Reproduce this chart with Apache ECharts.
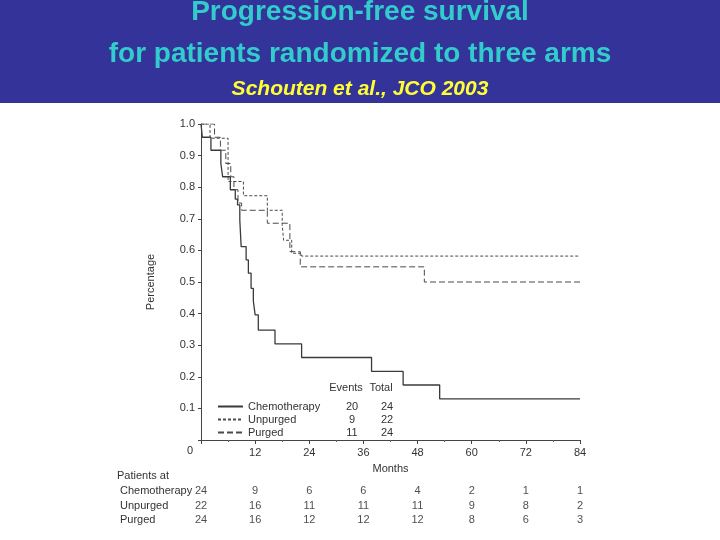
<!DOCTYPE html>
<html>
<head>
<meta charset="utf-8">
<script src="https://cdn.jsdelivr.net/npm/echarts@6/dist/echarts.min.js"></script>
<style>html,body{margin:0;padding:0;background:#fff}#c{width:720px;height:540px}</style>
</head>
<body>
<div id="c"></div>
<script>
// ---- data ----
var armNames = ['Chemotherapy', 'Unpurged', 'Purged'];
var chemoT = [0, 0.3, 2.2, 4.4, 4.8, 6.5, 7.6, 8.1, 8.6, 8.9, 10.0, 10.5, 11.1, 11.6, 12.0, 12.7, 16.4, 22.3, 37.8, 44.8, 52.9, 84];
var chemoS = [1.0, 0.958, 0.917, 0.875, 0.833, 0.792, 0.762, 0.744, 0.696, 0.612, 0.57, 0.528, 0.48, 0.44, 0.396, 0.348, 0.304, 0.261, 0.217, 0.174, 0.13, 0.13];
var unpurgedT = [0, 2.0, 6.0, 9.4, 14.7, 18.0, 18.3, 20.1, 22.3, 84];
var unpurgedS = [1.0, 0.955, 0.818, 0.773, 0.727, 0.682, 0.632, 0.591, 0.582, 0.582];
var purgedT = [0, 3.0, 4.3, 5.5, 6.6, 7.3, 8.2, 9.0, 14.7, 19.7, 22.0, 49.5, 84];
var purgedS = [1.0, 0.958, 0.917, 0.875, 0.833, 0.792, 0.75, 0.727, 0.686, 0.596, 0.548, 0.50, 0.50];
var events = [20, 9, 11];
var totals = [24, 22, 24];
var riskMonths = [0, 12, 24, 36, 48, 60, 72, 84];
var riskChemo = [24, 9, 6, 6, 4, 2, 1, 1];
var riskUnpurged = [22, 16, 11, 11, 11, 9, 8, 2];
var riskPurged = [24, 16, 12, 12, 12, 8, 6, 3];

function pairs(t, s) { return t.map(function (v, i) { return [v, s[i]]; }); }
function riskRow(name, arr) { return arr.map(function (v, i) { return [riskMonths[i], name, v]; }); }

var FONT = 'Liberation Sans, Arial, sans-serif';
var TXT = '#333';

var chart = echarts.init(document.getElementById('c'), null, { renderer: 'canvas' });
var option = {
  backgroundColor: '#ffffff',
  animation: false,
  textStyle: { fontFamily: FONT },
  graphic: [
    { type: 'rect', shape: { x: 0, y: 0, width: 720, height: 103 }, style: { fill: '#333399' }, z: 0 },
    { type: 'text', x: 360, y: 12, style: { text: 'Progression-free survival', fill: '#33CCCC', font: 'bold 28px ' + FONT, textAlign: 'center', textVerticalAlign: 'middle' } },
    { type: 'text', x: 360, y: 54, style: { text: 'for patients randomized to three arms', fill: '#33CCCC', font: 'bold 28px ' + FONT, textAlign: 'center', textVerticalAlign: 'middle' } },
    { type: 'text', x: 360, y: 89, style: { text: 'Schouten et al., JCO 2003', fill: '#FFFF33', font: 'italic bold 21px ' + FONT, textAlign: 'center', textVerticalAlign: 'middle' } },
    { type: 'text', x: 190, y: 451, style: { text: '0', fill: TXT, font: '11px ' + FONT, textAlign: 'center', textVerticalAlign: 'middle' } },
    { type: 'text', x: 346, y: 388, style: { text: 'Events', fill: TXT, font: '11px ' + FONT, textAlign: 'center', textVerticalAlign: 'middle' } },
    { type: 'text', x: 381, y: 388, style: { text: 'Total', fill: TXT, font: '11px ' + FONT, textAlign: 'center', textVerticalAlign: 'middle' } },
    { type: 'text', x: 117, y: 476, style: { text: 'Patients at', fill: TXT, font: '11px ' + FONT, textAlign: 'left', textVerticalAlign: 'middle' } }
  ],
  legend: {
    left: 212, top: 396, orient: 'vertical',
    itemWidth: 25, itemHeight: 12, itemGap: 2,
    data: armNames,
    itemStyle: { opacity: 0 },
    formatter: function (name) {
      var i = armNames.indexOf(name);
      return '{n|' + name + '}{e|' + events[i] + '}{t|' + totals[i] + '}';
    },
    textStyle: {
      color: TXT, fontSize: 11, fontFamily: FONT,
      rich: {
        n: { width: 98, fontSize: 11, color: TXT, fontFamily: FONT },
        e: { width: 12, align: 'center', fontSize: 11, color: TXT, fontFamily: FONT },
        t: { width: 58, align: 'center', fontSize: 11, color: TXT, fontFamily: FONT }
      }
    }
  },
  grid: [
    { left: 201, top: 124, width: 379, height: 316 },
    { left: 201, top: 484, width: 379, height: 43 }
  ],
  xAxis: [
    {
      gridIndex: 0, type: 'value', min: 0, max: 84, interval: 12,
      name: 'Months', nameLocation: 'middle', nameGap: 23,
      nameTextStyle: { color: TXT, fontSize: 11, fontFamily: FONT },
      axisLine: { lineStyle: { color: '#444', width: 1 } },
      axisTick: { show: true, length: 4, inside: false, lineStyle: { color: '#444' } },
      minorTick: { show: true, splitNumber: 2, length: 2, lineStyle: { color: '#666' } },
      splitLine: { show: false },
      axisLabel: { color: TXT, fontSize: 11, fontFamily: FONT, margin: 7,
        formatter: function (v) { return v === 0 ? '' : String(v); } }
    },
    {
      gridIndex: 1, type: 'value', min: 0, max: 84, interval: 12, show: false
    }
  ],
  yAxis: [
    {
      gridIndex: 0, type: 'value', min: 0, max: 1, interval: 0.1,
      name: 'Percentage', nameLocation: 'middle', nameGap: 45, nameRotate: 90,
      nameTextStyle: { color: TXT, fontSize: 11, fontFamily: FONT },
      axisLine: { show: true, lineStyle: { color: '#444', width: 1 } },
      axisTick: { show: true, length: 3, lineStyle: { color: '#444' } },
      splitLine: { show: false },
      axisLabel: { color: TXT, fontSize: 11, fontFamily: FONT, margin: 6,
        formatter: function (v) { return v === 0 ? '' : v.toFixed(1); } }
    },
    {
      gridIndex: 1, type: 'category', inverse: true, data: armNames,
      axisLine: { show: false }, axisTick: { show: false }, splitLine: { show: false },
      axisLabel: { align: 'left', margin: 81, color: TXT, fontSize: 11, fontFamily: FONT }
    }
  ],
  series: [
    { name: 'Chemotherapy', type: 'line', step: 'end', symbol: 'none', xAxisIndex: 0, yAxisIndex: 0,
      data: pairs(chemoT, chemoS), lineStyle: { color: '#3a3a3a', width: 1.3, type: 'solid' }, itemStyle: { color: '#3a3a3a' } },
    { name: 'Unpurged', type: 'line', step: 'end', symbol: 'none', xAxisIndex: 0, yAxisIndex: 0,
      data: pairs(unpurgedT, unpurgedS), lineStyle: { color: '#4a4a4a', width: 1, type: [3, 2] }, itemStyle: { color: '#4a4a4a' } },
    { name: 'Purged', type: 'line', step: 'end', symbol: 'none', xAxisIndex: 0, yAxisIndex: 0,
      data: pairs(purgedT, purgedS), lineStyle: { color: '#4a4a4a', width: 1, type: [6, 3] }, itemStyle: { color: '#4a4a4a' } },
    { name: 'risk', type: 'scatter', xAxisIndex: 1, yAxisIndex: 1, symbolSize: 0, silent: true,
      data: riskRow('Chemotherapy', riskChemo).concat(riskRow('Unpurged', riskUnpurged), riskRow('Purged', riskPurged)),
      label: { show: true, position: 'inside', color: '#222', fontSize: 11, fontFamily: FONT,
        formatter: function (p) { return String(p.value[2]); } } }
  ]
};
chart.setOption(option);
</script>
</body>
</html>
